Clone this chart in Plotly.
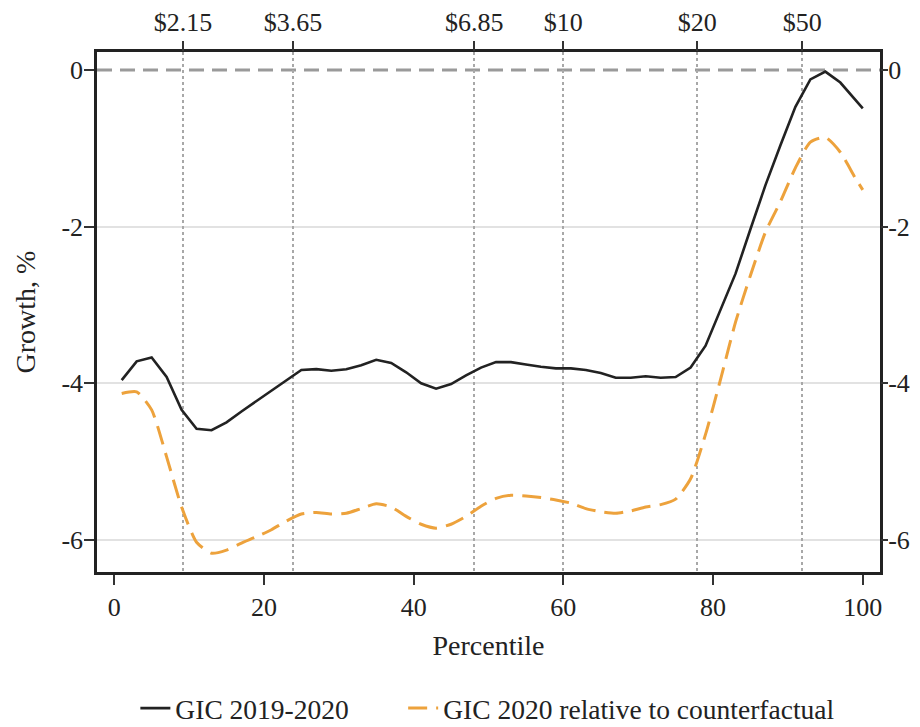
import plotly.graph_objects as go

# Percentiles at which the curves are sampled
percentile = [1, 3, 5, 7, 9, 11, 13, 15, 17, 19, 21, 23, 25, 27, 29, 31, 33, 35, 37, 39,
              41, 43, 45, 47, 49, 51, 53, 55, 57, 59, 61, 63, 65, 67, 69, 71, 73, 75, 77, 79,
              81, 83, 85, 87, 89, 91, 93, 95, 97, 99, 100]

gic_2019_2020 = [-3.96, -3.72, -3.67, -3.92, -4.34, -4.58, -4.60, -4.50, -4.36, -4.23,
                 -4.10, -3.96, -3.83, -3.82, -3.84, -3.82, -3.77, -3.70, -3.74, -3.86,
                 -4.00, -4.07, -4.01, -3.90, -3.80, -3.73, -3.73, -3.76, -3.79, -3.81,
                 -3.81, -3.83, -3.87, -3.93, -3.93, -3.91, -3.93, -3.92, -3.80, -3.52,
                 -3.05, -2.60, -2.03, -1.47, -0.96, -0.47, -0.12, -0.02, -0.16, -0.38,
                 -0.49]

gic_2020_cf = [-4.13, -4.11, -4.34, -4.94, -5.58, -6.03, -6.17, -6.13, -6.04, -5.96,
               -5.87, -5.76, -5.67, -5.65, -5.67, -5.66, -5.60, -5.54, -5.58, -5.70,
               -5.80, -5.85, -5.80, -5.70, -5.57, -5.47, -5.43, -5.44, -5.46, -5.49,
               -5.53, -5.60, -5.64, -5.66, -5.63, -5.58, -5.55, -5.48, -5.22, -4.65,
               -3.95, -3.22, -2.62, -2.07, -1.68, -1.25, -0.92, -0.86, -1.05, -1.38,
               -1.53]

# Axis ticks
x_ticks = [0, 20, 40, 60, 80, 100]
y_ticks = [-6, -4, -2, 0]
y_tick_labels = ["-6", "-4", "-2", "0"]
poverty_line_pct = [9.2, 23.9, 48.1, 60.0, 77.9, 91.9]
poverty_line_labels = ["$2.15", "$3.65", "$6.85", "$10", "$20", "$50"]
reference_line = 0
y_grid = [v for v in y_ticks if v != reference_line]

series_names = ["GIC 2019-2020", "GIC 2020 relative to counterfactual"]

FONT = "Liberation Serif"
X_RANGE = [-2.3, 102.3]
Y_RANGE = [-6.41, 0.23]

fig = go.Figure()
fig.add_trace(go.Scatter(
    x=percentile, y=gic_2019_2020, mode="lines", name=series_names[0],
    line=dict(color="#222222", width=2.6), legend="legend",
))
fig.add_trace(go.Scatter(
    x=percentile, y=gic_2020_cf, mode="lines", name=series_names[1],
    xaxis="x2", yaxis="y2", legend="legend2",
    line=dict(color="#EDA23C", width=3, dash="19px,9px", shape="spline", smoothing=0.6),
))

# dashed zero reference line
fig.add_shape(type="line", xref="paper", x0=0, x1=1, yref="y", y0=reference_line,
              y1=reference_line, line=dict(color="#9a9a9a", width=2.8, dash="15px,8px"),
              layer="below")

tick_style = dict(ticks="outside", ticklen=10, tickwidth=1.5, tickcolor="#333333",
                  tickfont=dict(family=FONT, size=26, color="#222222"))

legend_style = dict(orientation="h", xanchor="left", y=-0.262, yanchor="middle",
                    font=dict(family=FONT, size=27.5, color="#222222"),
                    itemwidth=30, bgcolor="rgba(0,0,0,0)")

fig.update_layout(
    width=904, height=711,
    margin=dict(l=89, r=32, t=44, b=147, autoexpand=False),
    paper_bgcolor="white", plot_bgcolor="white",
    font=dict(family=FONT, color="#222222"),
    xaxis=dict(
        range=X_RANGE, tickvals=x_ticks, showgrid=False, mirror=True,
        showline=True, linecolor="#222222", linewidth=2.5, zeroline=False,
        title=dict(text="Percentile", font=dict(family=FONT, size=28), standoff=15),
        automargin=False, **tick_style,
    ),
    xaxis2=dict(
        range=X_RANGE, overlaying="x", side="top", tickvals=poverty_line_pct,
        ticktext=poverty_line_labels, showgrid=True, griddash="dot",
        gridcolor="#a8a8a8", gridwidth=1.5, showline=False, zeroline=False,
        automargin=False, **tick_style,
    ),
    yaxis=dict(
        range=Y_RANGE, tickvals=y_ticks, ticktext=y_tick_labels,
        showgrid=False, mirror=True,
        minor=dict(tickvals=y_grid, showgrid=True, gridcolor="#e2e2e2", gridwidth=1.5,
                   ticks=""),
        showline=True, linecolor="#222222", linewidth=2.5, zeroline=False,
        title=dict(text="Growth, %", font=dict(family=FONT, size=28), standoff=18),
        automargin=False, ticklabelstandoff=-4, **tick_style,
    ),
    yaxis2=dict(
        range=Y_RANGE, overlaying="y", side="right", tickvals=y_ticks,
        ticktext=y_tick_labels, showgrid=False, showline=False, zeroline=False,
        automargin=False, ticks="outside", ticklen=7, tickwidth=1.5, tickcolor="#333333",
        tickfont=dict(family=FONT, size=26, color="#222222"), ticklabelstandoff=-5,
    ),
    legend=dict(x=0.049, **legend_style),
    legend2=dict(x=0.391, **legend_style),
    showlegend=True,
)

fig.write_html("out.html")
